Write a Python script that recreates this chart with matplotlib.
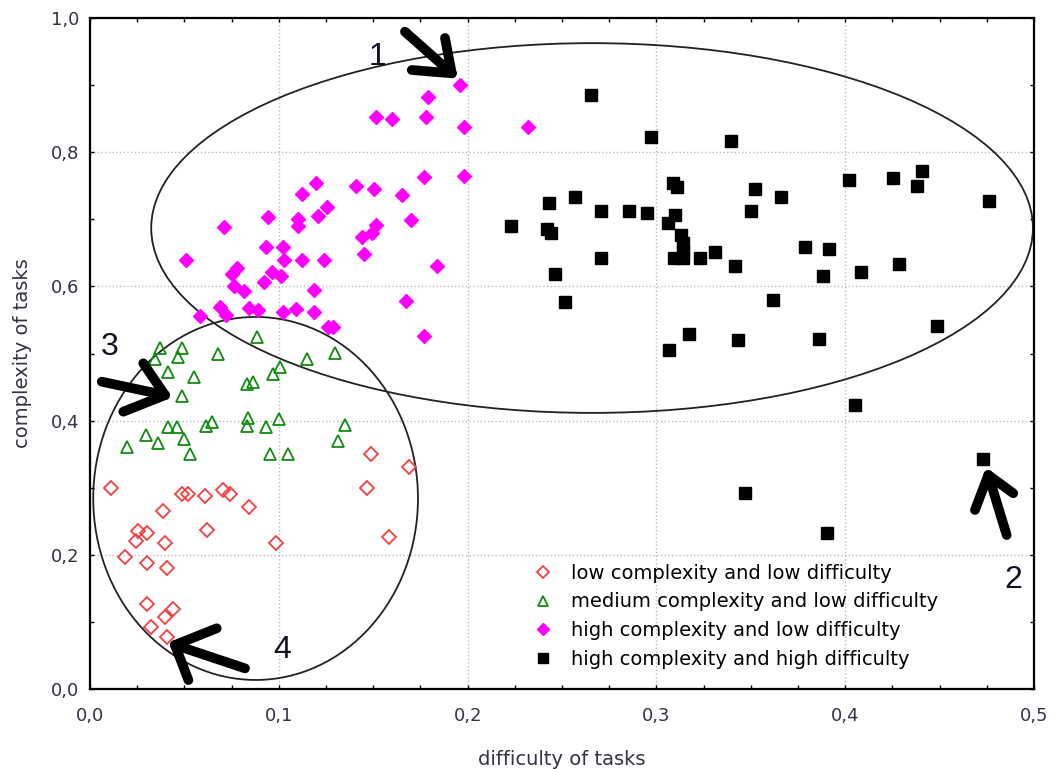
import matplotlib
matplotlib.use("Agg")
import matplotlib.pyplot as plt
from matplotlib.patches import Ellipse
from matplotlib.ticker import MultipleLocator, FuncFormatter

plt.rcParams['font.family'] = ['DejaVu Sans']

# low complexity and low difficulty (red open diamonds)
low_x = [0.1488, 0.169, 0.0111, 0.1466, 0.0489, 0.0517, 0.0609, 0.0703, 0.0742,
         0.0844, 0.0388, 0.0256, 0.0304, 0.0244, 0.0397, 0.0618, 0.0983, 0.1585,
         0.0185, 0.030, 0.0406, 0.030, 0.0397, 0.0438, 0.0321, 0.041]
low_y = [0.350, 0.331, 0.299, 0.299, 0.291, 0.291, 0.287, 0.297, 0.291,
         0.272, 0.266, 0.235, 0.233, 0.221, 0.218, 0.237, 0.218, 0.227,
         0.197, 0.188, 0.180, 0.126, 0.108, 0.120, 0.093, 0.078]

# medium complexity and low difficulty (green open triangles)
med_x = [0.0883, 0.037, 0.0486, 0.0344, 0.0467, 0.0679, 0.1148, 0.1298, 0.0414,
         0.0552, 0.1006, 0.0967, 0.083, 0.0861, 0.0487, 0.0414, 0.0459, 0.0613,
         0.0647, 0.0838, 0.083, 0.0932, 0.1001, 0.135, 0.0297, 0.0362, 0.0498,
         0.1314, 0.0194, 0.053, 0.0953, 0.1049]
med_y = [0.525, 0.508, 0.508, 0.492, 0.495, 0.499, 0.492, 0.501, 0.472,
         0.465, 0.480, 0.469, 0.455, 0.458, 0.437, 0.390, 0.390, 0.392,
         0.398, 0.404, 0.392, 0.390, 0.402, 0.393, 0.379, 0.366, 0.372,
         0.369, 0.360, 0.350, 0.350, 0.350]

# high complexity and low difficulty (magenta filled diamonds)
hl_x = [0.196, 0.179, 0.1515, 0.160, 0.178, 0.198, 0.2318, 0.1769, 0.198, 0.1197,
        0.1125, 0.1409, 0.1506, 0.1654, 0.1254, 0.121, 0.0944, 0.1103, 0.1103, 0.071,
        0.1699, 0.1515, 0.1492, 0.1443, 0.0932, 0.102, 0.1453, 0.0508, 0.1028, 0.1125,
        0.124, 0.1836, 0.078, 0.075, 0.0962, 0.101, 0.0763, 0.0922, 0.0817, 0.1186,
        0.1674, 0.0689, 0.072, 0.0844, 0.0891, 0.1024, 0.1091, 0.1186, 0.0583, 0.1262,
        0.1285, 0.1769]
hl_y = [0.900, 0.882, 0.852, 0.849, 0.852, 0.837, 0.837, 0.763, 0.765, 0.754,
        0.738, 0.750, 0.745, 0.736, 0.719, 0.705, 0.703, 0.701, 0.690, 0.688,
        0.699, 0.692, 0.679, 0.673, 0.658, 0.659, 0.649, 0.639, 0.639, 0.639,
        0.639, 0.630, 0.628, 0.619, 0.622, 0.616, 0.601, 0.607, 0.593, 0.595,
        0.578, 0.569, 0.557, 0.568, 0.565, 0.562, 0.567, 0.562, 0.556, 0.539,
        0.539, 0.526]

# high complexity and high difficulty (black squares)
hh_x = [0.2652, 0.2971, 0.3394, 0.3086, 0.311, 0.3522, 0.366, 0.2569, 0.2431, 0.2707,
        0.2853, 0.2948, 0.3501, 0.3098, 0.3063, 0.2228, 0.2419, 0.2442, 0.3129, 0.3139,
        0.3143, 0.3093, 0.3143, 0.3231, 0.331, 0.2707, 0.3416, 0.2463, 0.2516, 0.3616,
        0.3173, 0.3434, 0.3067, 0.402, 0.4255, 0.4405, 0.4382, 0.4763, 0.3787, 0.3914,
        0.4287, 0.4084, 0.3881, 0.4488, 0.3861, 0.4052, 0.4732, 0.3902, 0.3469]
hh_y = [0.885, 0.822, 0.817, 0.754, 0.748, 0.745, 0.733, 0.733, 0.724, 0.712,
        0.712, 0.709, 0.712, 0.706, 0.694, 0.690, 0.685, 0.679, 0.677, 0.664,
        0.652, 0.643, 0.643, 0.643, 0.652, 0.643, 0.631, 0.619, 0.577, 0.580,
        0.529, 0.520, 0.505, 0.758, 0.761, 0.772, 0.750, 0.727, 0.658, 0.655,
        0.634, 0.622, 0.616, 0.541, 0.521, 0.423, 0.343, 0.232, 0.292]

labels = ['low complexity and low difficulty',
          'medium complexity and low difficulty',
          'high complexity and low difficulty',
          'high complexity and high difficulty']

fig = plt.figure(figsize=(10.53, 7.69), dpi=100)
ax = fig.add_axes([0.0855, 0.104, 0.8965, 0.8726])

ax.plot(low_x, low_y, 'D', ms=7, mfc='none', mec='#f04040', mew=1.3, ls='none', label=labels[0])
ax.plot(med_x, med_y, '^', ms=8, mfc='none', mec='#108a10', mew=1.3, ls='none', label=labels[1])
ax.plot(hl_x, hl_y, 'D', ms=7, mfc='#ff00ff', mec='#ff00ff', ls='none', label=labels[2])
ax.plot(hh_x, hh_y, 's', ms=8, mfc='black', mec='black', ls='none', label=labels[3])

# cluster ellipses
ax.add_patch(Ellipse((0.2659, 0.687), 0.467, 0.551, fill=False, ec='#222222', lw=1.3))
ax.add_patch(Ellipse((0.0877, 0.284), 0.172, 0.541, fill=False, ec='#222222', lw=1.3))

# hand drawn arrows and numbers
arrows = [
    ((0.1668, 0.9796), (0.1916, 0.9176), (0.1880, 0.9702), (0.1704, 0.9225)),
    ((0.4855, 0.2295), (0.4758, 0.3189), (0.4687, 0.2668), (0.4890, 0.2917)),
    ((0.0062, 0.4580), (0.0397, 0.4380), (0.0282, 0.4854), (0.0176, 0.4133)),
    ((0.0821, 0.0308), (0.0450, 0.0656), (0.0671, 0.0905), (0.0521, 0.0134)),
]
for start, tip, h1, h2 in arrows:
    for p in (start, h1, h2):
        ax.plot([p[0], tip[0]], [p[1], tip[1]], color='black', lw=7,
                solid_capstyle='round', clip_on=False, zorder=5)

for txt, (tx, ty) in zip(['1', '2', '3', '4'],
                         [(0.1525, 0.942), (0.4889, 0.162), (0.0106, 0.510), (0.1017, 0.058)]):
    ax.text(tx, ty, txt, fontsize=23, color='#111122', ha='center', va='center',
            family='Liberation Sans', zorder=6)

ax.set_xlim(0, 0.5)
ax.set_ylim(0, 1.0)
ax.xaxis.set_major_locator(MultipleLocator(0.1))
ax.xaxis.set_minor_locator(MultipleLocator(0.025))
ax.yaxis.set_major_locator(MultipleLocator(0.2))
ax.yaxis.set_minor_locator(MultipleLocator(0.1))
fmt = FuncFormatter(lambda v, pos: f"{v:.1f}".replace('.', ','))
ax.xaxis.set_major_formatter(fmt)
ax.yaxis.set_major_formatter(fmt)
ax.tick_params(which='both', direction='in', top=True, right=True, length=3, width=1)
ax.tick_params(which='major', labelsize=13, labelcolor='#333344')
ax.tick_params(axis='x', which='major', pad=13)
ax.tick_params(axis='y', which='major', pad=8)
ax.grid(True, which='major', ls=':', color='#bbbbbb', lw=1)
ax.set_axisbelow(True)
for s in ax.spines.values():
    s.set_linewidth(1.6)

ax.set_xlabel('difficulty of tasks', fontsize=14, color='#333344', labelpad=18)
ax.set_ylabel('complexity of tasks', fontsize=14, color='#333344', labelpad=13)

ax.legend(loc='upper left', bbox_to_anchor=(0.4405, 0.213), frameon=False,
          fontsize=14, handlelength=2, handletextpad=0.45, labelspacing=0.5,
          borderpad=0.4, markerscale=0.85)

fig.savefig('out.png', dpi=100)
